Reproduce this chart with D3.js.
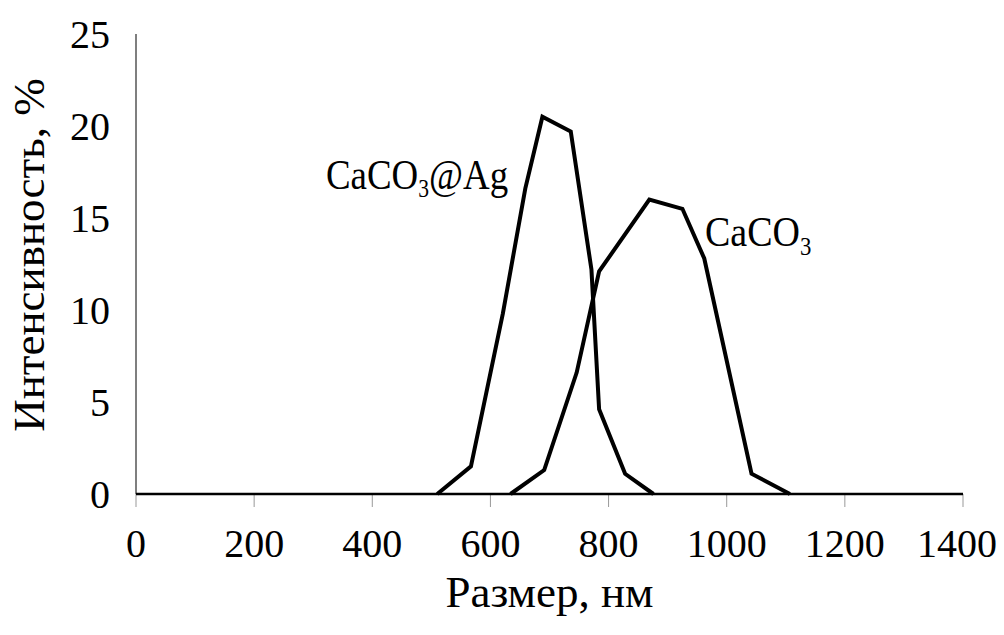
<!DOCTYPE html>
<html><head><meta charset="utf-8">
<script src="https://cdn.jsdelivr.net/npm/d3@7"></script>
<style>body{margin:0;background:#fff}svg{display:block}text{font-family:"Liberation Serif","Times New Roman",serif;fill:#000}</style>
</head><body>
<svg id="c" width="1004" height="635"></svg>
<script>
// Data (size in nm, intensity in %)
const agSize = [510, 567, 621, 659, 688, 736, 771, 784, 828, 876];
const agInt  = [0, 1.5, 9.8, 16.6, 20.5, 19.7, 12.2, 4.6, 1.1, 0];
const caSize = [634, 691, 746, 784, 869, 925, 962, 1042, 1107];
const caInt  = [0, 1.3, 6.6, 12.1, 16.0, 15.5, 12.8, 1.1, 0];
const xTicks = [0, 200, 400, 600, 800, 1000, 1200, 1400];
const yTicks = [0, 5, 10, 15, 20, 25];
const xTitle = "Размер, нм";
const yTitle = "Интенсивность, %";

const svg = d3.select("#c");
const x = d3.scaleLinear().domain([0, 1400]).range([136, 963]);
const y = d3.scaleLinear().domain([0, 25]).range([494, 34]);

// y axis line
svg.append("line").attr("x1", x(0)).attr("x2", x(0)).attr("y1", y(25)).attr("y2", y(0))
  .attr("stroke", "#555").attr("stroke-width", 1.5);

// x ticks (below axis)
svg.selectAll(".xt").data(xTicks).enter().append("line")
  .attr("x1", d => x(d)).attr("x2", d => x(d)).attr("y1", y(0)).attr("y2", y(0) + 13)
  .attr("stroke", "#999").attr("stroke-width", 1);

// x axis line
svg.append("line").attr("x1", x(0)).attr("x2", x(1400)).attr("y1", y(0)).attr("y2", y(0))
  .attr("stroke", "#000").attr("stroke-width", 2.5);

// tick labels
svg.selectAll(".xl").data(xTicks).enter().append("text")
  .attr("x", d => x(d) - (d === 1400 ? 6 : 0)).attr("y", 557)
  .attr("text-anchor", "middle").attr("font-size", 40).text(d => d);
svg.selectAll(".yl").data(yTicks).enter().append("text")
  .attr("x", 110).attr("y", d => y(d) + 14)
  .attr("text-anchor", "end").attr("font-size", 40).text(d => d);

// titles
svg.append("text").attr("x", (x(0) + x(1400)) / 2).attr("y", 607)
  .attr("text-anchor", "middle").attr("font-size", 45).text(xTitle);
svg.append("text").attr("transform", "translate(44,255) rotate(-90)")
  .attr("text-anchor", "middle").attr("font-size", 45).text(yTitle);

// lines
const line = d3.line().x(d => x(d[0])).y(d => y(d[1]));
const agData = agSize.map((s, i) => [s, agInt[i]]);
const caData = caSize.map((s, i) => [s, caInt[i]]);
[agData, caData].forEach(dd => {
  svg.append("path").datum(dd).attr("d", line).attr("fill", "none")
    .attr("stroke", "#000").attr("stroke-width", 4).attr("stroke-linejoin", "miter");
});

// labels
const l1 = svg.append("text").attr("transform", "translate(326,189) scale(0.9,1.05)").attr("font-size", 41);
l1.append("tspan").text("CaCO");
l1.append("tspan").attr("font-size", 24).attr("dy", 8).text("3");
l1.append("tspan").attr("dy", -8).text("@Ag");
const l2 = svg.append("text").attr("transform", "translate(705,246) scale(0.95,1.08)").attr("font-size", 40);
l2.append("tspan").text("CaCO");
l2.append("tspan").attr("font-size", 24).attr("dy", 8).text("3");
</script>
</body></html>
